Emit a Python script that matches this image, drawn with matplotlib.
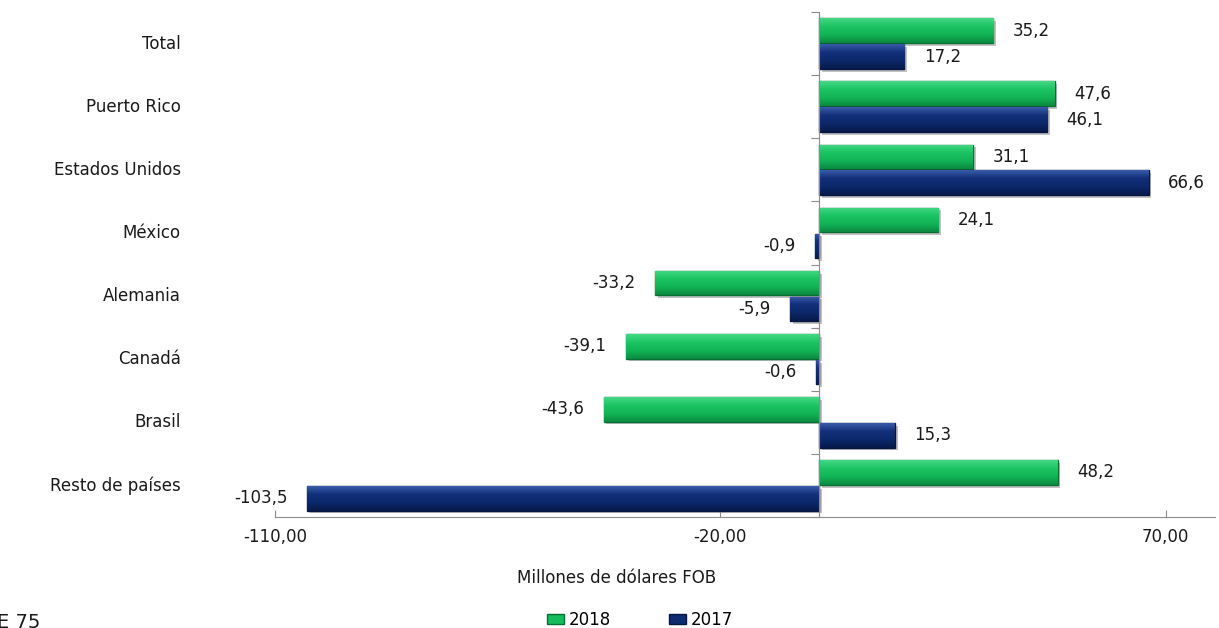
import matplotlib
matplotlib.use("Agg")
import matplotlib.pyplot as plt
import matplotlib.patheffects as pe
import matplotlib.transforms as mtrans
from matplotlib.colors import LinearSegmentedColormap
from matplotlib.patches import Patch
import numpy as np

categories = ["Total", "Puerto Rico", "Estados Unidos", "México", "Alemania",
              "Canadá", "Brasil", "Resto de países"]
values_2018 = [35.2, 47.6, 31.1, 24.1, -33.2, -39.1, -43.6, 48.2]
values_2017 = [17.2, 46.1, 66.6, -0.9, -5.9, -0.6, 15.3, -103.5]
series_names = ["2018", "2017"]
xticks = [-110, -20, 70]
xtick_labels = ["-110,00", "-20,00", "70,00"]

GREEN = "#14BC5C"
GREEN_EDGE = "#0A6E34"
NAVY = "#0E2C70"
NAVY_EDGE = "#061640"
green_cmap = LinearSegmentedColormap.from_list("g", ["#45D886", "#1CC462", "#12B456", "#0A8A40"])
navy_cmap = LinearSegmentedColormap.from_list("n", ["#3A5BA8", "#12307A", "#0C286A", "#071A4A"])
FONT = "DejaVu Sans"
TXT = "#1a1a1a"

W, H = 1219, 628
fig = plt.figure(figsize=(W / 100, H / 100), dpi=100)
ax = fig.add_axes([275 / W, 1 - 517 / H, (1215 - 275) / W, (517 - 12) / H])

y = np.arange(len(categories))
h = 0.39
off = 0.205
shadow = [pe.SimplePatchShadow(offset=(2, -2), shadow_rgbFace="#9a9a9a", alpha=0.6), pe.Normal()]
b1 = ax.barh(y - off, values_2018, height=h, color=GREEN, edgecolor=GREEN_EDGE, linewidth=1.0, zorder=3)
b2 = ax.barh(y + off, values_2017, height=h, color=NAVY, edgecolor=NAVY_EDGE, linewidth=1.0, zorder=3)
grad = np.linspace(0, 1, 64).reshape(-1, 1)
for bars, cmap in ((b1, green_cmap), (b2, navy_cmap)):
    for p in bars:
        p.set_path_effects(shadow)
        x0 = p.get_x(); x1 = x0 + p.get_width()
        y0 = p.get_y(); y1 = y0 + p.get_height()
        im = ax.imshow(grad, cmap=cmap, aspect="auto", extent=(min(x0, x1), max(x0, x1), y0, y1),
                       origin="lower", zorder=3.5, interpolation="bilinear")
        im.set_clip_path(p)

ax.set_xlim(-110, 80)
ax.set_ylim(len(categories) - 0.5, -0.5)
ax.set_aspect("auto")

def fmt(v):
    return f"{v:.1f}".replace(".", ",")

for vals, dy in ((values_2018, -off), (values_2017, off)):
    for i, v in enumerate(vals):
        if v >= 0:
            ax.annotate(fmt(v), (v, i + dy), xytext=(14, 0), textcoords="offset points",
                        ha="left", va="center", fontsize=12, family=FONT, color=TXT)
        else:
            ax.annotate(fmt(v), (v, i + dy), xytext=(-14, 0), textcoords="offset points",
                        ha="right", va="center", fontsize=12, family=FONT, color=TXT)

for s in ("top", "right"):
    ax.spines[s].set_visible(False)
ax.spines["left"].set_position(("data", 0))
ax.spines["left"].set_color("#8c8c8c")
ax.spines["bottom"].set_color("#8c8c8c")
ax.spines["left"].set_zorder(4)

ax.set_yticks(np.arange(-0.5, len(categories), 1.0))
ax.set_yticklabels([])
ax.tick_params(axis="y", direction="out", length=6, color="#8c8c8c")
ax.set_xticks(xticks)
ax.set_xticklabels(xtick_labels, family=FONT, fontsize=12, color=TXT)
ax.tick_params(axis="x", direction="in", length=5, color="#8c8c8c", pad=8)

tr = mtrans.blended_transform_factory(fig.transFigure, ax.transData)
for i, c in enumerate(categories):
    ax.text(181 / W, i, c, transform=tr, ha="right", va="center",
            fontsize=12, family=FONT, color=TXT)

fig.text(617 / W, 1 - 578 / H, "Millones de dólares FOB", ha="center", va="center",
         fontsize=12, family=FONT, color=TXT)

handles = [Patch(facecolor=GREEN, edgecolor=GREEN_EDGE), Patch(facecolor=NAVY, edgecolor=NAVY_EDGE)]
fig.legend(handles, series_names, loc="center", bbox_to_anchor=(640 / W, 1 - 620 / H), ncol=2,
           frameon=False, prop={"family": FONT, "size": 12}, handlelength=1.0, handleheight=0.6,
           handletextpad=0.3, columnspacing=3.5)

fig.text(-3 / W, 1 - 622 / H, "E 75", ha="left", va="center", fontsize=14, family=FONT, color=TXT)

fig.savefig("out.png", dpi=100)
